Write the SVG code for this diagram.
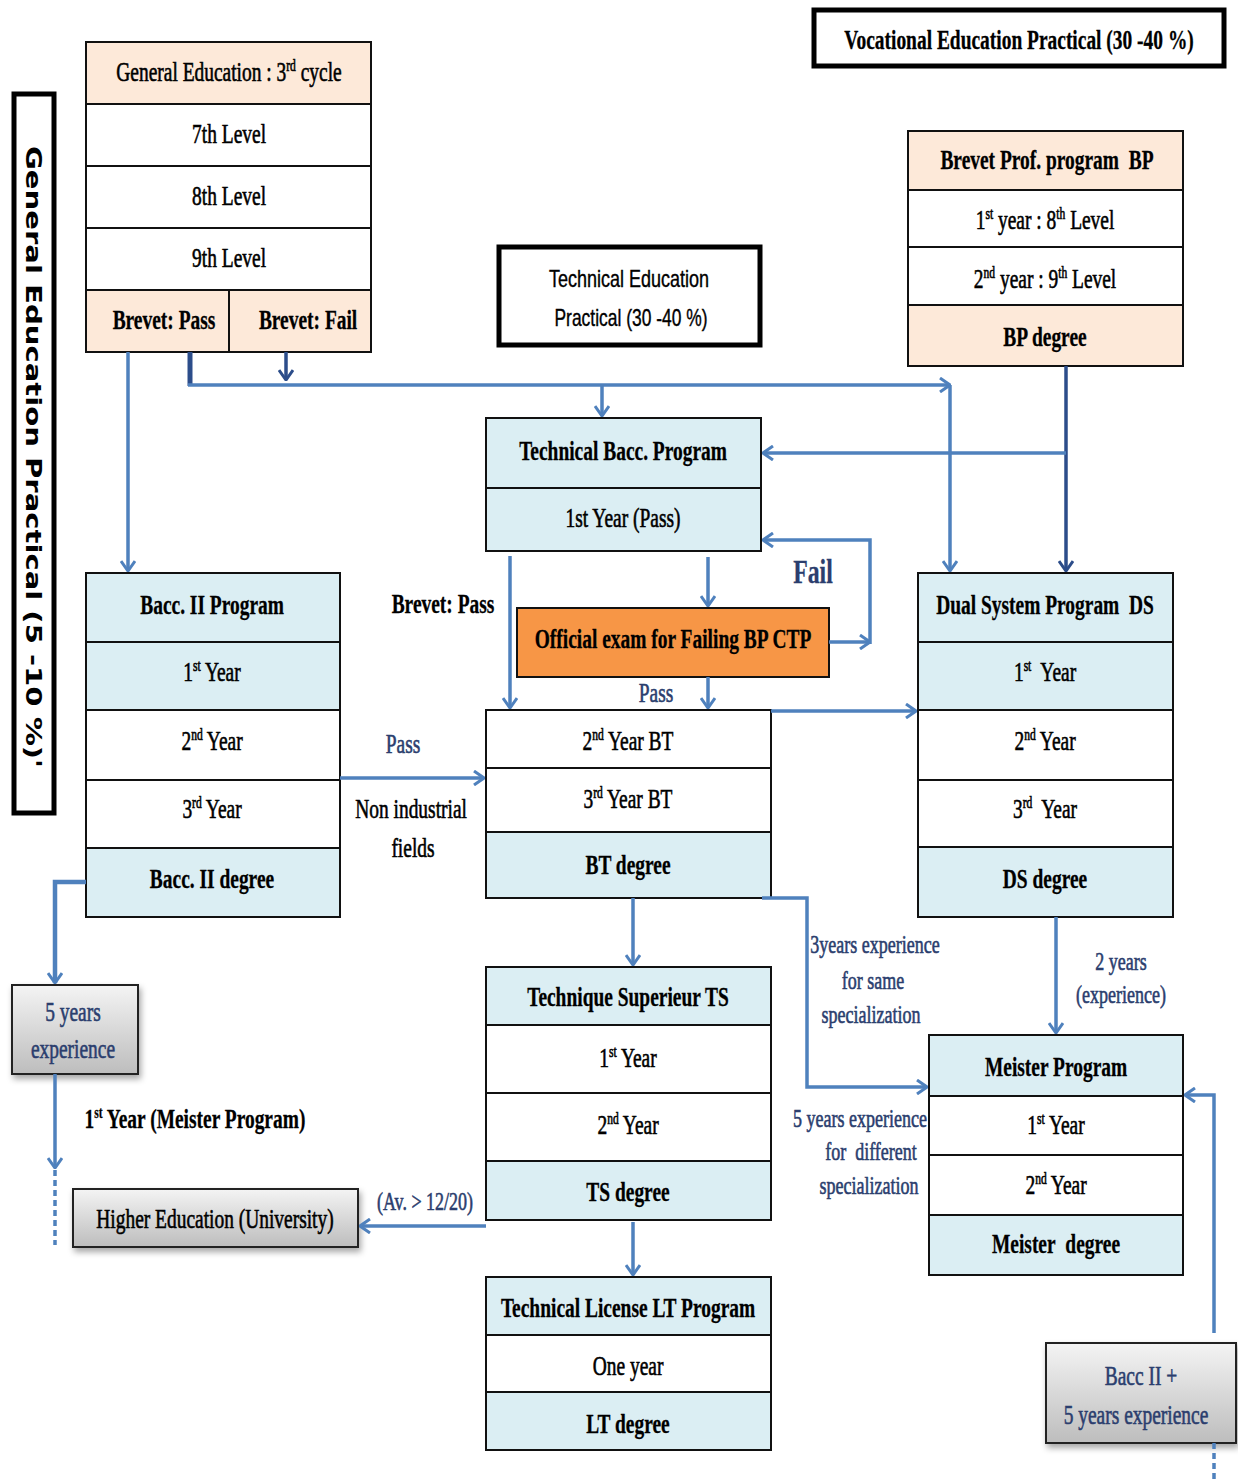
<svg xmlns="http://www.w3.org/2000/svg" width="1238" height="1479" viewBox="0 0 1238 1479">
<style>
.t{font-family:"Liberation Serif",serif;font-size:27px;text-anchor:middle;fill:#000;stroke:#000;stroke-width:.6;transform-box:fill-box;transform-origin:center;transform:scaleX(.72)}
.b{font-weight:bold;stroke-width:.3}
.lb{fill:#2B3E6E;stroke:#2B3E6E}
.s{font-size:16px}
.c{stroke:#111;stroke-width:2}
.pe{fill:#FDE9D9}
.bl{fill:#DBEEF3}
.wh{fill:#fff}
.or{fill:#F79646}
.thick{fill:#fff;stroke:#000;stroke-width:5}
.ln{fill:none;stroke:#4F81BD;stroke-width:3.5}
.nv{fill:none;stroke:#2C4D8A;stroke-width:3.5}
.ds{stroke-dasharray:6 4}
.gb{fill:url(#gg);stroke:#222;stroke-width:2;filter:url(#sh)}
.sans{font-family:"Liberation Sans",sans-serif;font-size:24px;text-anchor:middle;stroke:#000;stroke-width:.4}
</style>
<defs>
<marker id="a" viewBox="0 0 12 16" refX="11" refY="8" markerWidth="12" markerHeight="16" markerUnits="userSpaceOnUse" orient="auto">
<path d="M1,1 L11,8 L1,15" fill="none" stroke="#4F81BD" stroke-width="3"/>
</marker>
<marker id="n" viewBox="0 0 12 16" refX="11" refY="8" markerWidth="12" markerHeight="16" markerUnits="userSpaceOnUse" orient="auto">
<path d="M1,1 L11,8 L1,15" fill="none" stroke="#2C4D8A" stroke-width="3"/>
</marker>
<linearGradient id="gg" x1="0" y1="0" x2="0" y2="1">
<stop offset="0" stop-color="#F4F4F4"/>
<stop offset="1" stop-color="#BDBDBD"/>
</linearGradient>
<filter id="sh" x="-10%" y="-10%" width="130%" height="140%">
<feDropShadow dx="2" dy="4" stdDeviation="3" flood-color="#000" flood-opacity="0.35"/>
</filter>
</defs>

<g id="label-general">
<rect x="14" y="94" width="40" height="719" class="thick"/>
<text x="33" y="457" transform="rotate(90 33 457)" font-family="'DejaVu Sans',sans-serif" font-weight="bold" font-size="22" text-anchor="middle" dominant-baseline="central" textLength="622" lengthAdjust="spacingAndGlyphs">General Education Practical (5 -10 %)'</text>
</g>

<g id="label-vocational">
<rect x="814" y="10" width="410" height="56" class="thick"/>
<text class="t b" x="1019" y="49">Vocational Education Practical (30 -40 %)</text>
</g>

<g id="label-technical">
<rect x="499" y="247" width="261" height="98" class="thick"/>
<text class="sans" x="629" y="287" textLength="160" lengthAdjust="spacingAndGlyphs">Technical Education</text>
<text class="sans" x="631" y="326" textLength="153" lengthAdjust="spacingAndGlyphs">Practical (30 -40 %)</text>
</g>

<g id="general-education">
<rect x="86" y="42" width="285" height="62" class="c pe"/>
<rect x="86" y="104" width="285" height="62" class="c wh"/>
<rect x="86" y="166" width="285" height="62" class="c wh"/>
<rect x="86" y="228" width="285" height="62" class="c wh"/>
<rect x="86" y="290" width="285" height="62" class="c pe"/>
<line x1="229" y1="290" x2="229" y2="352" class="c"/>
<text class="t" x="229" y="81">General Education : 3<tspan class="s" dy="-10">rd</tspan><tspan dy="10"> cycle</tspan></text>
<text class="t" x="229" y="143">7th Level</text>
<text class="t" x="229" y="205">8th Level</text>
<text class="t" x="229" y="267">9th Level</text>
<text class="t b" x="164" y="329">Brevet: Pass</text>
<text class="t b" x="308" y="329">Brevet: Fail</text>
</g>

<g id="brevet-prof">
<rect x="908" y="131" width="275" height="59" class="c pe"/>
<rect x="908" y="190" width="275" height="57" class="c wh"/>
<rect x="908" y="247" width="275" height="58" class="c wh"/>
<rect x="908" y="305" width="275" height="61" class="c pe"/>
<text class="t b" x="1047" y="169">Brevet Prof. program&#160; BP</text>
<text class="t" x="1045" y="229">1<tspan class="s" dy="-10">st</tspan><tspan dy="10"> year : 8</tspan><tspan class="s" dy="-10">th</tspan><tspan dy="10"> Level</tspan></text>
<text class="t" x="1045" y="288">2<tspan class="s" dy="-10">nd</tspan><tspan dy="10"> year : 9</tspan><tspan class="s" dy="-10">th</tspan><tspan dy="10"> Level</tspan></text>
<text class="t b" x="1045" y="346">BP degree</text>
</g>

<g id="technical-bacc">
<rect x="486" y="418" width="275" height="70" class="c bl"/>
<rect x="486" y="488" width="275" height="63" class="c bl"/>
<text class="t b" x="623" y="460">Technical Bacc. Program</text>
<text class="t" x="623" y="527">1st Year (Pass)</text>
</g>

<g id="official-exam">
<rect x="517" y="608" width="312" height="69" class="c or"/>
<text class="t b" x="673" y="648">Official exam for Failing BP CTP</text>
</g>

<g id="bt">
<rect x="486" y="710" width="285" height="58" class="c wh"/>
<rect x="486" y="768" width="285" height="64" class="c wh"/>
<rect x="486" y="832" width="285" height="66" class="c bl"/>
<text class="t" x="628" y="750">2<tspan class="s" dy="-10">nd</tspan><tspan dy="10"> Year BT</tspan></text>
<text class="t" x="628" y="808">3<tspan class="s" dy="-10">rd</tspan><tspan dy="10"> Year BT</tspan></text>
<text class="t b" x="628" y="874">BT degree</text>
</g>

<g id="bacc2">
<rect x="86" y="573" width="254" height="69" class="c bl"/>
<rect x="86" y="642" width="254" height="68" class="c bl"/>
<rect x="86" y="710" width="254" height="70" class="c wh"/>
<rect x="86" y="780" width="254" height="68" class="c wh"/>
<rect x="86" y="848" width="254" height="69" class="c bl"/>
<text class="t b" x="212" y="614">Bacc. II Program</text>
<text class="t" x="212" y="681">1<tspan class="s" dy="-10">st</tspan><tspan dy="10"> Year</tspan></text>
<text class="t" x="212" y="750">2<tspan class="s" dy="-10">nd</tspan><tspan dy="10"> Year</tspan></text>
<text class="t" x="212" y="818">3<tspan class="s" dy="-10">rd</tspan><tspan dy="10"> Year</tspan></text>
<text class="t b" x="212" y="888">Bacc. II degree</text>
</g>

<g id="dual-system">
<rect x="918" y="573" width="255" height="69" class="c bl"/>
<rect x="918" y="642" width="255" height="68" class="c bl"/>
<rect x="918" y="710" width="255" height="70" class="c wh"/>
<rect x="918" y="780" width="255" height="67" class="c wh"/>
<rect x="918" y="847" width="255" height="70" class="c bl"/>
<text class="t b" x="1045" y="614">Dual System Program&#160; DS</text>
<text class="t" x="1045" y="681">1<tspan class="s" dy="-10">st</tspan><tspan dy="10">&#160; Year</tspan></text>
<text class="t" x="1045" y="750">2<tspan class="s" dy="-10">nd</tspan><tspan dy="10"> Year</tspan></text>
<text class="t" x="1045" y="818">3<tspan class="s" dy="-10">rd</tspan><tspan dy="10">&#160; Year</tspan></text>
<text class="t b" x="1045" y="888">DS degree</text>
</g>

<g id="ts">
<rect x="486" y="967" width="285" height="58" class="c bl"/>
<rect x="486" y="1025" width="285" height="68" class="c wh"/>
<rect x="486" y="1093" width="285" height="68" class="c wh"/>
<rect x="486" y="1161" width="285" height="59" class="c bl"/>
<text class="t b" x="628" y="1006">Technique Superieur TS</text>
<text class="t" x="628" y="1067">1<tspan class="s" dy="-10">st</tspan><tspan dy="10"> Year</tspan></text>
<text class="t" x="628" y="1134">2<tspan class="s" dy="-10">nd</tspan><tspan dy="10"> Year</tspan></text>
<text class="t b" x="628" y="1201">TS degree</text>
</g>

<g id="lt">
<rect x="486" y="1277" width="285" height="58" class="c bl"/>
<rect x="486" y="1335" width="285" height="57" class="c wh"/>
<rect x="486" y="1392" width="285" height="58" class="c bl"/>
<text class="t b" x="628" y="1317">Technical License LT Program</text>
<text class="t" x="628" y="1375">One year</text>
<text class="t b" x="628" y="1433">LT degree</text>
</g>

<g id="meister">
<rect x="929" y="1035" width="254" height="61" class="c bl"/>
<rect x="929" y="1096" width="254" height="59" class="c wh"/>
<rect x="929" y="1155" width="254" height="60" class="c wh"/>
<rect x="929" y="1215" width="254" height="60" class="c bl"/>
<text class="t b" x="1056" y="1076">Meister Program</text>
<text class="t" x="1056" y="1134">1<tspan class="s" dy="-10">st</tspan><tspan dy="10"> Year</tspan></text>
<text class="t" x="1056" y="1194">2<tspan class="s" dy="-10">nd</tspan><tspan dy="10"> Year</tspan></text>
<text class="t b" x="1056" y="1253">Meister&#160; degree</text>
</g>

<g id="five-years">
<rect x="12" y="985" width="126" height="89" class="gb"/>
<text class="t lb" x="73" y="1021">5 years</text>
<text class="t lb" x="73" y="1058">experience</text>
</g>

<g id="higher-education">
<rect x="73" y="1189" width="285" height="58" class="gb"/>
<text class="t" x="215" y="1228">Higher Education (University)</text>
</g>

<g id="bacc2-plus">
<rect x="1046" y="1343" width="190" height="100" class="gb"/>
<text class="t lb" x="1141" y="1385">Bacc II +</text>
<text class="t lb" x="1136" y="1424">5 years experience</text>
</g>

<g id="connectors">
<path class="ln" d="M128,352 V571" marker-end="url(#a)"/>
<path class="nv" d="M190,352 V386" style="stroke-width:5"/>
<path class="ln" d="M188,385 H950" marker-end="url(#a)"/>
<path class="ln" d="M950,385 V571" marker-end="url(#a)"/>
<path class="ln" d="M602,385 V416" marker-end="url(#a)"/>
<path class="nv" d="M286,352 V380" marker-end="url(#n)"/>
<path class="nv" d="M1066,366 V571" marker-end="url(#n)"/>
<path class="ln" d="M1066,453 H763" marker-end="url(#a)"/>
<path class="ln" d="M510,556 V708" marker-end="url(#a)"/>
<path class="ln" d="M708,557 V606" marker-end="url(#a)"/>
<path class="ln" d="M829,642 H870" marker-end="url(#a)"/>
<path class="ln" d="M870,644 V540 H763" marker-end="url(#a)"/>
<path class="ln" d="M708,677 V708" marker-end="url(#a)"/>
<path class="ln" d="M771,711 H916" marker-end="url(#a)"/>
<path class="ln" d="M340,778 H484" marker-end="url(#a)"/>
<path class="ln" d="M86,882 H55 V983" style="stroke-width:4.5" marker-end="url(#a)"/>
<path class="ln" d="M55,1074 V1168" marker-end="url(#a)"/>
<path class="ln ds" d="M55,1170 V1245"/>
<path class="ln" d="M633,898 V965" marker-end="url(#a)"/>
<path class="ln" d="M762,898 H807 V1087 H927" marker-end="url(#a)"/>
<path class="ln" d="M1056,917 V1033" marker-end="url(#a)"/>
<path class="ln" d="M486,1226 H360" marker-end="url(#a)"/>
<path class="ln" d="M633,1222 V1275" marker-end="url(#a)"/>
<path class="ln" d="M1214,1333 V1095 H1185" marker-end="url(#a)"/>
<path class="ln ds" d="M1214,1443 V1479"/>
</g>

<g id="labels">
<text class="t b" x="443" y="613">Brevet: Pass</text>
<text class="t b lb" x="813" y="583" style="font-size:33px">Fail</text>
<text class="t lb" x="656" y="702">Pass</text>
<text class="t lb" x="403" y="753">Pass</text>
<text class="t" x="411" y="818">Non industrial</text>
<text class="t" x="413" y="857">fields</text>
<text class="t lb" x="875" y="953" style="font-size:25px">3years experience</text>
<text class="t lb" x="873" y="989" style="font-size:25px">for same</text>
<text class="t lb" x="871" y="1023" style="font-size:25px">specialization</text>
<text class="t lb" x="860" y="1127" style="font-size:25px">5 years experience</text>
<text class="t lb" x="871" y="1160" style="font-size:25px">for&#160; different</text>
<text class="t lb" x="869" y="1194" style="font-size:25px">specialization</text>
<text class="t lb" x="1121" y="970" style="font-size:25px">2 years</text>
<text class="t lb" x="1121" y="1003" style="font-size:25px">(experience)</text>
<text class="t lb" x="425" y="1210" style="font-size:25px">(Av. &gt; 12/20)</text>
<text class="t b" x="195" y="1128">1<tspan class="s" dy="-10">st</tspan><tspan dy="10"> Year (Meister Program)</tspan></text>
</g>
</svg>
